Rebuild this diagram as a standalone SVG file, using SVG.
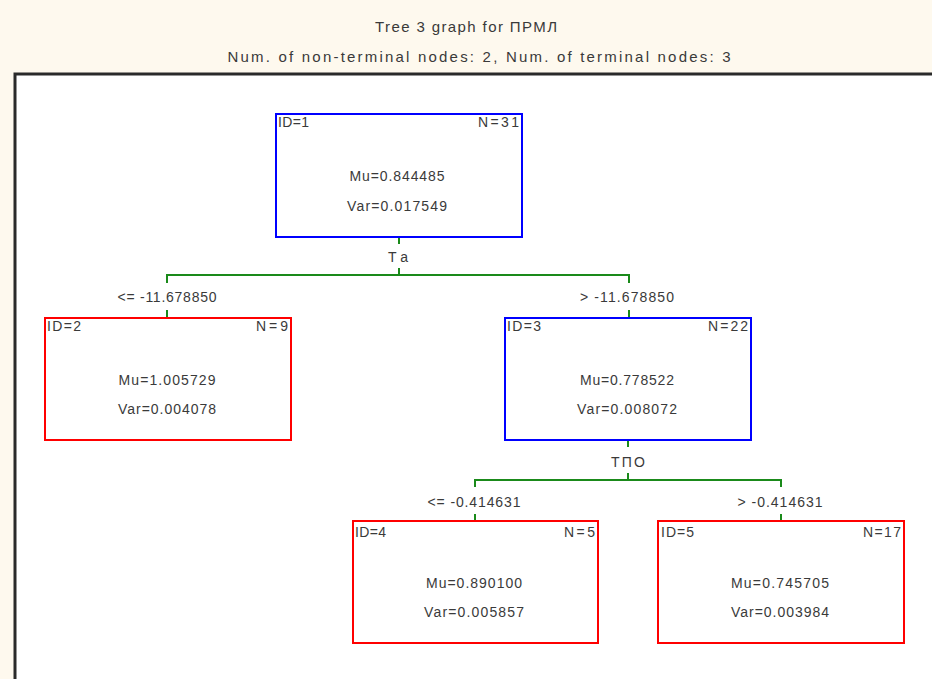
<svg xmlns="http://www.w3.org/2000/svg" width="932" height="679" viewBox="0 0 932 679">
  <style>
    text { font-family: "Liberation Sans", Arial, sans-serif; fill: #3a3a3a; }
    .title { font-size: 15px; text-anchor: middle; }
    .t { font-size: 14px; }
    .c { text-anchor: middle; }
    .r { text-anchor: end; }
    .split { fill: #ffffff; stroke: #0000ff; stroke-width: 2; }
    .leaf { fill: #ffffff; stroke: #ff0000; stroke-width: 2; }
    .edge { fill: none; stroke: #1a8a1a; stroke-width: 2; }
  </style>

  <!-- header band and plot frame -->
  <rect x="0" y="0" width="932" height="679" fill="#fef9ee"/>
  <rect x="15" y="74" width="930" height="620" fill="#ffffff" stroke="#2a2a2a" stroke-width="3"/>

  <text class="title" x="466" y="32" textLength="182" lengthAdjust="spacing">Tree 3 graph for ПРМЛ</text>
  <text class="title" x="479" y="62" textLength="503" lengthAdjust="spacing">Num. of non-terminal nodes: 2,  Num. of terminal nodes: 3</text>

  <!-- connectors with split variables and conditions -->
  <g id="connectors">
    <path class="edge" d="M399 237 V244 M399 268 V275 M167 283 V275 H629 V283"/>
    <path class="edge" d="M167 310 V318 M629 310 V318"/>
    <path class="edge" d="M628 440 V447 M628 473 V480 M475 487 V480 H781 V487"/>
    <path class="edge" d="M475 514 V521 M781 514 V521"/>
    <text class="t c" x="398" y="262" textLength="20" lengthAdjust="spacing">Ta</text>
    <text class="t c" x="167" y="302" textLength="99" lengthAdjust="spacing">&lt;= -11.678850</text>
    <text class="t c" x="627" y="302" textLength="94" lengthAdjust="spacing">&gt; -11.678850</text>
    <text class="t c" x="628" y="467" textLength="34" lengthAdjust="spacing">ТПО</text>
    <text class="t c" x="474" y="507" textLength="93" lengthAdjust="spacing">&lt;= -0.414631</text>
    <text class="t c" x="780" y="507" textLength="85" lengthAdjust="spacing">&gt; -0.414631</text>
  </g>

  <g id="node1">
    <rect class="split" x="276" y="114" width="246" height="123"/>
    <text class="t" x="278" y="127" textLength="31" lengthAdjust="spacing">ID=1</text>
    <text class="t r" x="519" y="127" textLength="41" lengthAdjust="spacing">N=31</text>
    <text class="t c" x="397" y="181" textLength="95" lengthAdjust="spacing">Mu=0.844485</text>
    <text class="t c" x="397" y="211" textLength="100" lengthAdjust="spacing">Var=0.017549</text>
  </g>

  <g id="node2">
    <rect class="leaf" x="45" y="318" width="246" height="122"/>
    <text class="t" x="47" y="331" textLength="34" lengthAdjust="spacing">ID=2</text>
    <text class="t r" x="288" y="331" textLength="32" lengthAdjust="spacing">N=9</text>
    <text class="t c" x="167" y="385" textLength="97" lengthAdjust="spacing">Mu=1.005729</text>
    <text class="t c" x="167" y="414" textLength="98" lengthAdjust="spacing">Var=0.004078</text>
  </g>

  <g id="node3">
    <rect class="split" x="505" y="318" width="246" height="122"/>
    <text class="t" x="507" y="331" textLength="34" lengthAdjust="spacing">ID=3</text>
    <text class="t r" x="748" y="331" textLength="40" lengthAdjust="spacing">N=22</text>
    <text class="t c" x="627" y="385" textLength="94" lengthAdjust="spacing">Mu=0.778522</text>
    <text class="t c" x="627" y="414" textLength="100" lengthAdjust="spacing">Var=0.008072</text>
  </g>

  <g id="node4">
    <rect class="leaf" x="353" y="521" width="245" height="122"/>
    <text class="t" x="355" y="537" textLength="31" lengthAdjust="spacing">ID=4</text>
    <text class="t r" x="595" y="537" textLength="31" lengthAdjust="spacing">N=5</text>
    <text class="t c" x="474" y="588" textLength="96" lengthAdjust="spacing">Mu=0.890100</text>
    <text class="t c" x="474" y="617" textLength="100" lengthAdjust="spacing">Var=0.005857</text>
  </g>

  <g id="node5">
    <rect class="leaf" x="658" y="521" width="246" height="122"/>
    <text class="t" x="661" y="537" textLength="33" lengthAdjust="spacing">ID=5</text>
    <text class="t r" x="901" y="537" textLength="38" lengthAdjust="spacing">N=17</text>
    <text class="t c" x="780" y="588" textLength="98" lengthAdjust="spacing">Mu=0.745705</text>
    <text class="t c" x="780" y="617" textLength="98" lengthAdjust="spacing">Var=0.003984</text>
  </g>
</svg>
